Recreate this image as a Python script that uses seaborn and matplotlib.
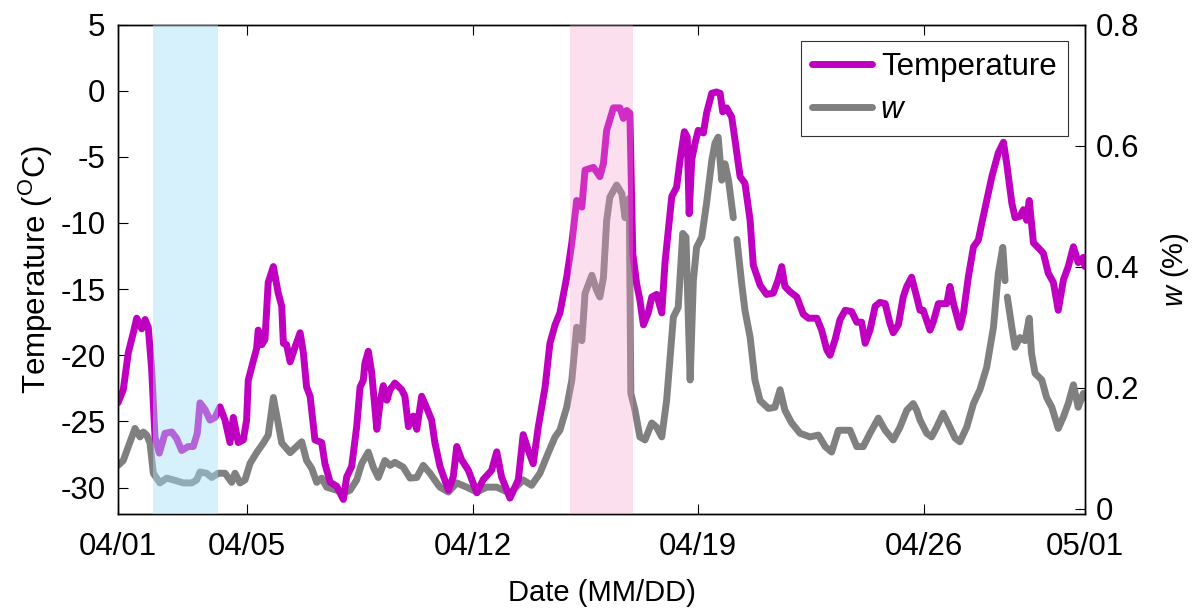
import numpy as np
import pandas as pd
import matplotlib
matplotlib.use("Agg")
import matplotlib.pyplot as plt
import seaborn as sns
from matplotlib.lines import Line2D

# ---------------- data (days since 04/01 00:00) ----------------
day_T = [0.0, 0.164, 0.32, 0.475, 0.58, 0.735, 0.84, 0.94, 1.045, 1.148, 1.28, 1.46, 1.666, 1.82,
         1.976, 2.18, 2.336, 2.46, 2.544, 2.70, 2.854, 3.01, 3.164, 3.32, 3.475, 3.577, 3.73, 3.887,
         3.99, 4.04, 4.20, 4.30, 4.35, 4.46, 4.56, 4.66, 4.82, 4.97, 5.08, 5.13, 5.23, 5.34, 5.49,
         5.65, 5.75, 5.85, 5.96, 6.11, 6.32, 6.42, 6.58, 6.785, 6.99, 7.095, 7.25, 7.405, 7.51, 7.61,
         7.66, 7.765, 7.87, 8.03, 8.13, 8.23, 8.34, 8.44, 8.59, 8.80, 8.90, 9.01, 9.16, 9.27, 9.42,
         9.58, 9.73, 9.83, 9.99, 10.25, 10.40, 10.51, 10.66, 10.87, 11.13, 11.33, 11.59, 11.75, 11.90,
         12.16, 12.42, 12.57, 12.73, 12.88, 13.04, 13.25, 13.40, 13.56, 13.71, 13.92, 14.08, 14.23,
         14.39, 14.49, 14.75, 14.95, 15.06, 15.16, 15.37, 15.57, 15.68, 15.78, 15.88, 15.97, 16.09,
         16.19, 16.30, 16.45, 16.56, 16.71, 16.87, 16.97, 17.18, 17.33, 17.44, 17.57, 17.66, 17.72,
         17.80, 17.90, 18.00, 18.16, 18.26, 18.42, 18.57, 18.68, 18.76, 18.88, 19.04, 19.14, 19.30,
         19.45, 19.61, 19.71, 19.92, 20.12, 20.33, 20.48, 20.59, 20.69, 20.85, 21.06, 21.26, 21.42,
         21.68, 21.83, 21.99, 22.09, 22.25, 22.40, 22.56, 22.76, 22.92, 23.07, 23.18, 23.33, 23.49,
         23.64, 23.80, 23.95, 24.05, 24.21, 24.36, 24.47, 24.62, 24.78, 24.88, 24.98, 25.19, 25.29,
         25.45, 25.71, 25.81, 25.92, 26.12, 26.23, 26.38, 26.54, 26.69, 26.80, 26.95, 27.11, 27.31,
         27.47, 27.57, 27.73, 27.83, 27.98, 28.09, 28.19, 28.27, 28.40, 28.60, 28.71, 28.86, 29.02,
         29.17, 29.33, 29.48, 29.64, 29.79, 29.95, 30.0]
temperature = [-23.6, -22.6, -19.8, -18.3, -17.2, -18.0, -17.3, -17.9, -21.1, -26.2, -27.4, -25.9,
               -25.8, -26.3, -27.2, -26.9, -26.9, -25.9, -23.6, -24.1, -24.9, -24.7, -23.9, -24.9,
               -26.6, -24.7, -26.6, -26.4, -24.9, -21.9, -20.4, -19.5, -18.1, -19.2, -18.8, -14.5,
               -13.3, -15.3, -16.3, -19.1, -19.2, -20.5, -19.4, -18.3, -19.8, -22.4, -23.1, -26.4,
               -26.6, -28.2, -29.6, -29.9, -30.9, -29.2, -28.4, -25.4, -22.4, -21.9, -20.6, -19.7,
               -21.3, -25.6, -23.6, -22.3, -23.4, -22.6, -22.1, -22.6, -23.1, -25.4, -24.6, -25.6,
               -23.1, -24.0, -24.9, -26.6, -28.4, -30.2, -29.2, -26.9, -27.9, -28.7, -30.4, -29.4,
               -28.7, -27.3, -29.2, -30.8, -29.4, -26.0, -27.2, -28.2, -25.4, -22.4, -19.1, -17.7,
               -16.8, -14.1, -11.5, -8.3, -8.8, -6.0, -5.8, -6.5, -5.5, -3.0, -1.3, -1.3, -2.1, -1.5,
               -1.7, -12.3, -14.6, -15.8, -17.7, -16.8, -15.6, -15.4, -16.8, -13.0, -8.0, -7.3, -5.2,
               -3.1, -3.5, -9.3, -5.2, -4.0, -3.0, -3.2, -1.7, -0.2, -0.1, -0.2, -1.6, -1.3, -2.0,
               -3.7, -6.5, -7.0, -9.8, -13.2, -14.7, -15.4, -15.3, -14.3, -13.3, -14.8, -15.2, -15.6,
               -16.9, -17.2, -17.2, -18.1, -19.6, -20.0, -18.8, -17.3, -16.6, -16.7, -17.5, -17.5,
               -19.1, -18.1, -16.3, -16.0, -16.1, -17.6, -18.3, -17.7, -15.6, -14.8, -14.1, -15.6,
               -16.6, -16.6, -18.1, -17.5, -16.1, -16.1, -14.8, -16.1, -17.9, -16.8, -14.1, -11.8,
               -11.3, -10.0, -8.3, -6.5, -4.7, -3.9, -5.5, -8.5, -9.6, -9.5, -9.0, -9.8, -8.3, -11.5,
               -12.0, -12.3, -13.8, -14.5, -16.6, -14.3, -13.3, -11.8, -13.0, -12.6, -13.3]

day_w = [0.0, 0.164, 0.32, 0.527, 0.683, 0.785, 0.89, 0.993, 1.095, 1.30, 1.51, 1.716, 2.026, 2.287,
         2.44, 2.544, 2.75, 2.907, 3.11, 3.32, 3.527, 3.63, 3.785, 3.94, 4.095, 4.30, 4.51, 4.66,
         4.82, 4.97, 5.08, 5.34, 5.54, 5.70, 5.85, 6.01, 6.165, 6.32, 6.475, 6.785, 6.99, 7.20,
         7.405, 7.56, 7.765, 7.92, 8.075, 8.28, 8.44, 8.59, 8.85, 9.06, 9.27, 9.47, 9.68, 9.89,
         9.99, 10.25, 10.51, 10.82, 11.13, 11.44, 11.75, 12.16, 12.57, 12.83, 13.09, 13.35, 13.56,
         13.71, 13.92, 14.08, 14.23, 14.39, 14.49, 14.70, 14.85, 14.95, 15.06, 15.16, 15.26, 15.47,
         15.63, 15.73, 15.86, 15.91, 16.04, 16.19, 16.35, 16.56, 16.71, 16.87, 17.02, 17.23, 17.38,
         17.52, 17.62, 17.75, 17.85, 17.95, 18.11, 18.26, 18.42, 18.52, 18.62, 18.73, 18.83, 18.94,
         19.09, 19.14, 19.20, 19.35, 19.45, 19.61, 19.76, 19.92, 20.18, 20.38, 20.54, 20.69, 20.90,
         21.16, 21.47, 21.73, 21.94, 22.14, 22.35, 22.56, 22.71, 22.92, 23.12, 23.33, 23.59, 23.80,
         24.05, 24.26, 24.47, 24.67, 24.78, 24.88, 25.09, 25.24, 25.40, 25.60, 25.81, 25.97, 26.12,
         26.33, 26.54, 26.74, 26.95, 27.16, 27.31, 27.45, 27.52, 27.55, 27.59, 27.73, 27.83, 27.98,
         28.14, 28.27, 28.34, 28.45, 28.66, 28.81, 28.97, 29.17, 29.33, 29.48, 29.64, 29.79, 29.95,
         30.0]
w_values = [0.072, 0.080, 0.103, 0.133, 0.119, 0.127, 0.122, 0.109, 0.059, 0.043, 0.051, 0.048,
            0.043, 0.043, 0.048, 0.061, 0.059, 0.052, 0.059, 0.059, 0.044, 0.059, 0.043, 0.048,
            0.075, 0.093, 0.109, 0.122, 0.184, 0.141, 0.109, 0.093, 0.103, 0.111, 0.080, 0.067,
            0.044, 0.051, 0.036, 0.031, 0.026, 0.031, 0.048, 0.075, 0.094, 0.069, 0.052, 0.080,
            0.072, 0.077, 0.069, 0.051, 0.052, 0.072, 0.059, 0.043, 0.036, 0.028, 0.043, 0.036,
            0.028, 0.036, 0.036, 0.026, 0.048, 0.039, 0.059, 0.093, 0.119, 0.130, 0.168, 0.213,
            0.300, 0.278, 0.356, 0.386, 0.361, 0.350, 0.382, 0.476, 0.515, 0.535, 0.521, 0.481,
            0.513, 0.191, 0.163, 0.119, 0.114, 0.142, 0.135, 0.119, 0.179, 0.317, 0.333, 0.455,
            0.449, 0.213, 0.377, 0.432, 0.449, 0.505, 0.575, 0.604, 0.614, 0.543, 0.570, 0.543,
            0.481, np.nan, 0.445, 0.372, 0.328, 0.284, 0.213, 0.179, 0.166, 0.168, 0.197, 0.163,
            0.142, 0.125, 0.119, 0.122, 0.103, 0.094, 0.130, 0.130, 0.130, 0.103, 0.103, 0.125,
            0.150, 0.130, 0.114, 0.135, 0.163, 0.174, 0.163, 0.147, 0.125, 0.119, 0.135, 0.158,
            0.135, 0.117, 0.111, 0.135, 0.174, 0.197, 0.234, 0.300, 0.389, 0.432, 0.377, np.nan,
            0.350, 0.300, 0.267, 0.283, 0.278, 0.315, 0.257, 0.224, 0.213, 0.184, 0.168, 0.133,
            0.152, 0.174, 0.205, 0.168, 0.191, 0.184]

xtick_days = [0, 4, 11, 18, 25, 30]
xtick_labels = ["04/01", "04/05", "04/12", "04/19", "04/26", "05/01"]
blue_span = (1.09, 3.1)
pink_span = (14.03, 15.99)

# ---------------- style ----------------
sns.set_theme(style="white")
plt.rcParams["font.family"] = ["Liberation Sans", "DejaVu Sans"]
plt.rcParams["mathtext.fontset"] = "custom"
plt.rcParams["mathtext.rm"] = "Liberation Sans"
plt.rcParams["mathtext.it"] = "Liberation Sans:italic"
plt.rcParams["axes.unicode_minus"] = False
for k in ("text.color", "axes.labelcolor", "xtick.color", "ytick.color"):
    plt.rcParams[k] = "black"

PURPLE = "#c000c0"
GRAY = "#808080"

fig = plt.figure(figsize=(12.02, 6.13), dpi=100)
ax = fig.add_axes([118 / 1202, 1 - 514 / 613, (1085 - 118) / 1202, (514 - 24.5) / 613])
ax2 = ax.twinx()

dfT = pd.DataFrame({"day": day_T, "T": temperature})
dfw = pd.DataFrame({"day": day_w, "w": w_values})
dfw["seg"] = dfw["w"].isna().cumsum()
dfw = dfw.dropna()

sns.lineplot(data=dfw, x="day", y="w", units="seg", estimator=None, sort=False,
             color=GRAY, lw=5, ax=ax2, legend=False)
sns.lineplot(data=dfT, x="day", y="T", sort=False, color=PURPLE, lw=5, ax=ax, legend=False)

# temperature axes above the w axes so purple draws on top
ax.set_zorder(ax2.get_zorder() + 1)
ax.patch.set_visible(False)
ax2.patch.set_visible(True)
ax2.patch.set_facecolor("white")

ax.axvspan(*blue_span, color="#a4e0f8", alpha=0.45, lw=0, zorder=5)
ax.axvspan(*pink_span, color="#f898cd", alpha=0.30, lw=0, zorder=5)

ax.set_xlim(0, 30)
ax.set_ylim(-32, 5)
ax2.set_ylim(-0.0083, 0.8)
ax.set_xticks(xtick_days)
ax.set_xticklabels(xtick_labels)
ax.set_yticks(np.arange(-30, 6, 5))
ax2.set_yticks([0, 0.2, 0.4, 0.6, 0.8])
ax2.set_yticklabels(["0", "0.2", "0.4", "0.6", "0.8"])

ax.tick_params(axis="x", direction="in", length=7, width=0.8, color="black",
               labelsize=22.5, pad=13, top=True, bottom=True)
ax.tick_params(axis="y", direction="in", length=7, width=0.8, color="black",
               labelsize=22.5, pad=9, left=True, right=False)
ax2.tick_params(axis="y", direction="in", length=7, width=0.8, color="black",
                labelsize=22.5, pad=8, right=True, left=False)
ax2.tick_params(axis="x", bottom=False, top=False)

for a in (ax, ax2):
    for s in a.spines.values():
        s.set_color("black")
        s.set_linewidth(1.0)

ax.set_xlabel("Date (MM/DD)", fontsize=21, labelpad=12)
ax.set_ylabel("Temperature ($\\mathrm{^{O}}$C)", fontsize=22.5, labelpad=4)
ax2.set_ylabel("$w$ (%)", fontsize=21, labelpad=14)

handles = [Line2D([], [], color=PURPLE, lw=5), Line2D([], [], color=GRAY, lw=5)]
leg = ax.legend(handles, ["Temperature", "w"], loc="upper right",
                bbox_to_anchor=(0.982, 0.966), borderaxespad=0, fontsize=22.5,
                frameon=True, fancybox=False, framealpha=1, edgecolor="#333333",
                handlelength=1.9, handletextpad=0.3, labelspacing=0.42, borderpad=0.35)
leg.get_frame().set_linewidth(0.8)
leg.get_texts()[1].set_fontstyle("italic")
leg.set_zorder(10)

fig.savefig("out.png", dpi=100)
